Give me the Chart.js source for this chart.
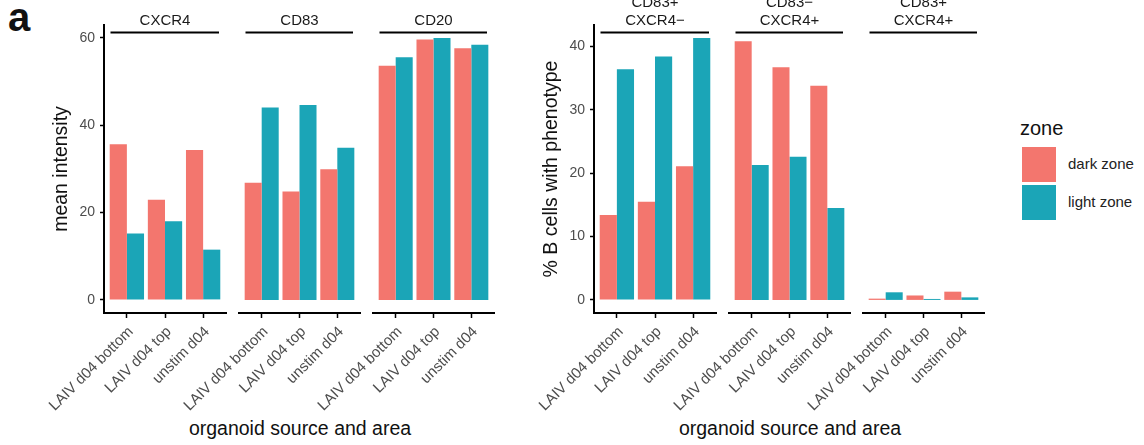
<!DOCTYPE html>
<html>
<head>
<meta charset="utf-8">
<script src="https://cdn.jsdelivr.net/npm/chart.js@4.4.1/dist/chart.umd.min.js"></script>
<style>
  body { margin: 0; background: #fff; }
  #fig { position: relative; width: 1144px; height: 445px; overflow: hidden;
         font-family: 'Liberation Sans', Arial, sans-serif; }
  #fig canvas { position: absolute; top: 0; }
  .lbl { position: absolute; white-space: nowrap; color: #111; }
  .key { position: absolute; left: 1022px; width: 34px; height: 35px; }
</style>
</head>
<body>
<div id="fig">
  <div class="lbl" style="left:8px;top:-5px;font-size:40px;font-weight:bold;">a</div>
  <div class="lbl" style="left:150px;top:417px;width:300px;text-align:center;font-size:19.5px;line-height:22px;">organoid source and area</div>
  <div class="lbl" style="left:640px;top:417px;width:300px;text-align:center;font-size:19.5px;line-height:22px;">organoid source and area</div>
  <div class="lbl" style="left:1020px;top:116px;font-size:20px;line-height:24px;">zone</div>
  <div class="key" id="keyDark" style="top:147px;"></div>
  <div class="key" id="keyLight" style="top:184.5px;"></div>
  <div class="lbl" style="left:1068px;top:155px;font-size:15px;line-height:18px;color:#222;">dark zone</div>
  <div class="lbl" style="left:1068px;top:193px;font-size:15px;line-height:18px;color:#222;">light zone</div>
</div>
<script>
// data
const samples = ['LAIV d04 bottom', 'LAIV d04 top', 'unstim d04'];
const zones = ['dark zone', 'light zone'];

const cxcr4Dark = [35.6, 22.9, 34.3];
const cxcr4Light = [15.2, 18.0, 11.5];
const cd83Dark = [26.8, 24.8, 29.9];
const cd83Light = [44.0, 44.6, 34.8];
const cd20Dark = [53.6, 59.6, 57.6];
const cd20Light = [55.5, 59.9, 58.4];

const posNegDark = [13.4, 15.5, 21.1];   // CD83+ CXCR4-
const posNegLight = [36.4, 38.4, 41.3];
const negPosDark = [40.8, 36.7, 33.8];   // CD83- CXCR4+
const negPosLight = [21.3, 22.6, 14.5];
const posPosDark = [0.2, 0.7, 1.3];      // CD83+ CXCR4+
const posPosLight = [1.2, 0.15, 0.4];

const intensityTicks = [0, 20, 40, 60];
const percentTicks = [0, 10, 20, 30, 40];

const darkColor = '#F3766E';
const lightColor = '#1BA5B7';
const family = "'Liberation Sans', Arial, sans-serif";

document.getElementById('keyDark').style.background = darkColor;
document.getElementById('keyLight').style.background = lightColor;

const fig = document.getElementById('fig');

// facet strip: label above a black line
const stripPlugin = {
  id: 'strip',
  afterDraw(chart, args, opts) {
    const { ctx, chartArea } = chart;
    const top = chartArea.top;
    ctx.save();
    ctx.strokeStyle = '#000';
    ctx.lineWidth = 2;
    ctx.beginPath();
    ctx.moveTo(chartArea.left + 6.5, top + 7.5);
    ctx.lineTo(chartArea.right - 7, top + 7.5);
    ctx.stroke();
    ctx.fillStyle = '#1a1a1a';
    ctx.font = '15px ' + family;
    ctx.textAlign = 'center';
    ctx.textBaseline = 'middle';
    const cx = (chartArea.left + chartArea.right) / 2;
    const n = opts.lines.length;
    opts.lines.forEach((t, i) => ctx.fillText(t, cx, top - 4.5 - (n - 1 - i) * 17.5));
    ctx.restore();
  }
};

const padL = 100, padR = 20, yWidth = 54;

function facet(cfg) {
  const canvas = document.createElement('canvas');
  canvas.width = padL + cfg.width + padR;
  canvas.height = 445;
  canvas.style.left = (cfg.left - padL) + 'px';
  fig.appendChild(canvas);

  const top = Math.max(...cfg.panelMax);
  const exp = top * 0.05;

  new Chart(canvas, {
    type: 'bar',
    data: {
      datasets: [
        { label: zones[0], data: cfg.dark.map((v, i) => ({ x: i, y: v })), backgroundColor: darkColor },
        { label: zones[1], data: cfg.light.map((v, i) => ({ x: i, y: v })), backgroundColor: lightColor }
      ]
    },
    options: {
      responsive: false,
      animation: false,
      devicePixelRatio: 1,
      layout: { padding: { left: cfg.yAxis ? padL - yWidth : padL, right: padR, top: 25, bottom: 0 } },
      datasets: { bar: { categoryPercentage: 0.9, barPercentage: 1, borderWidth: 0 } },
      plugins: {
        legend: { display: false },
        tooltip: { enabled: false },
        strip: { lines: cfg.strip }
      },
      scales: {
        x: {
          type: 'linear',
          min: -0.6,
          max: 2.6,
          bounds: 'data',
          offset: false,
          afterBuildTicks: s => { s.ticks = samples.map((_, i) => ({ value: i })); },
          afterFit: s => { s.height = 132; },
          grid: { display: true, drawOnChartArea: false, drawTicks: true, tickLength: 5,
                  tickWidth: 1.5, tickColor: '#000', offset: false },
          border: { display: true, color: '#000', width: 2 },
          ticks: { autoSkip: false, maxRotation: 45, minRotation: 45, padding: 5, labelOffset: 4,
                   color: '#4d4d4d', font: { size: 15, family }, callback: v => samples[v] }
        },
        y: {
          display: cfg.yAxis,
          min: -exp,
          max: top + exp,
          bounds: 'data',
          afterBuildTicks: s => { s.ticks = cfg.ticks.map(v => ({ value: v })); },
          afterFit: s => { s.width = cfg.yAxis ? yWidth : 0; },
          grid: { display: true, drawOnChartArea: false, drawTicks: true, tickLength: 4,
                  tickWidth: 1.5, tickColor: '#000' },
          border: { display: true, color: '#000', width: 2 },
          ticks: { color: '#4d4d4d', font: { size: 14, family }, padding: 5 },
          title: { display: true, text: cfg.title || '', color: '#111', font: { size: 19.5, family }, padding: 0 }
        }
      }
    },
    plugins: [stripPlugin]
  });
}

const intensityAll = [...cxcr4Dark, ...cxcr4Light, ...cd83Dark, ...cd83Light, ...cd20Dark, ...cd20Light];
const percentAll = [...posNegDark, ...posNegLight, ...negPosDark, ...negPosLight, ...posPosDark, ...posPosLight];

facet({ left: 104, width: 122.5, yAxis: true, title: 'mean intensity', ticks: intensityTicks,
        panelMax: intensityAll, strip: ['CXCR4'], dark: cxcr4Dark, light: cxcr4Light });
facet({ left: 239.3, width: 121.5, yAxis: false, ticks: intensityTicks,
        panelMax: intensityAll, strip: ['CD83'], dark: cd83Dark, light: cd83Light });
facet({ left: 373.3, width: 121.5, yAxis: false, ticks: intensityTicks,
        panelMax: intensityAll, strip: ['CD20'], dark: cd20Dark, light: cd20Light });

facet({ left: 594, width: 122, yAxis: true, title: '% B cells with phenotype', ticks: percentTicks,
        panelMax: percentAll, strip: ['CD83+', 'CXCR4\u2212'], dark: posNegDark, light: posNegLight });
facet({ left: 729, width: 121.2, yAxis: false, ticks: percentTicks,
        panelMax: percentAll, strip: ['CD83\u2212', 'CXCR4+'], dark: negPosDark, light: negPosLight });
facet({ left: 862.7, width: 121.2, yAxis: false, ticks: percentTicks,
        panelMax: percentAll, strip: ['CD83+', 'CXCR4+'], dark: posPosDark, light: posPosLight });
</script>
</body>
</html>
